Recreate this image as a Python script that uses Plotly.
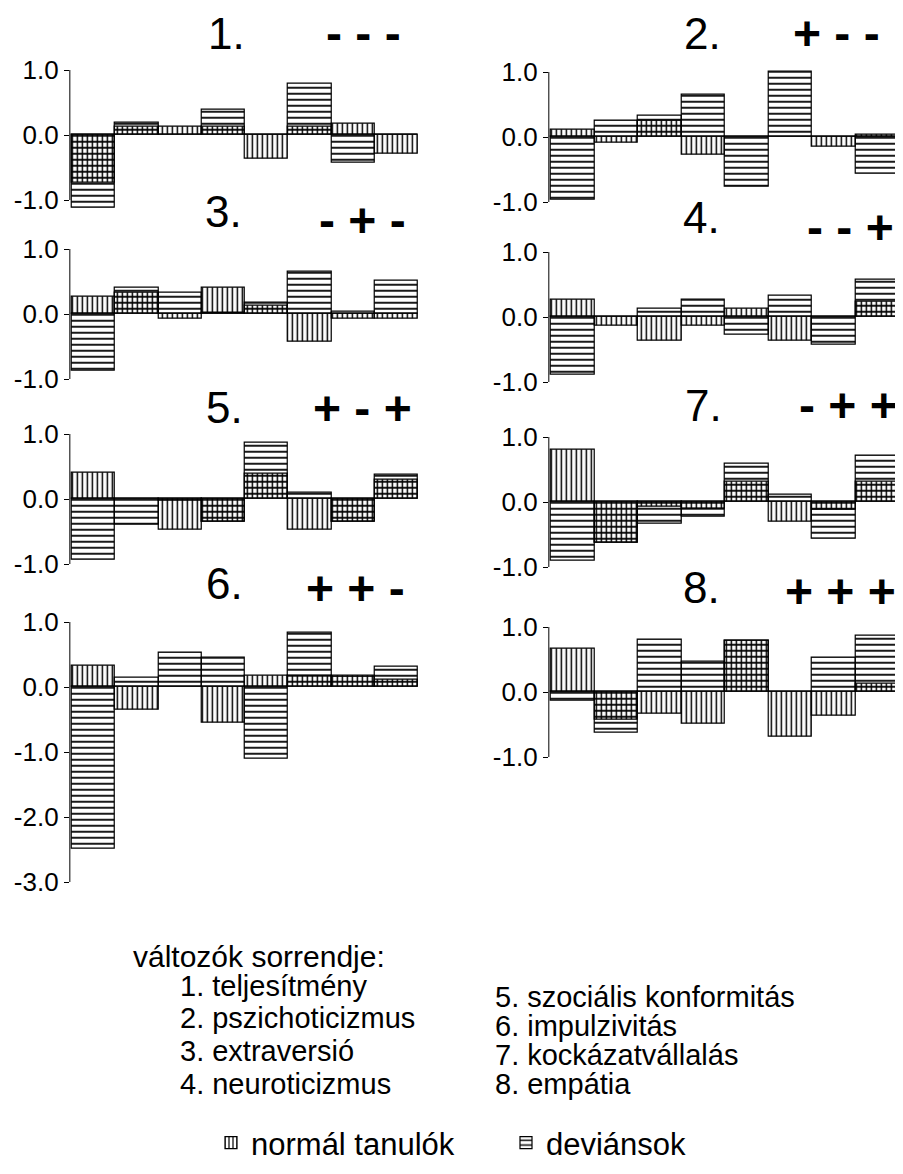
import plotly.graph_objects as go

# ---------------- data ----------------
variables = [1, 2, 3, 4, 5, 6, 7, 8]
var_names = ["teljesítmény", "pszichoticizmus", "extraversió", "neuroticizmus",
             "szociális konformitás", "impulzivitás", "kockázatvállalás", "empátia"]
list_header = "változók sorrendje:"
series_names = ["normál tanulók", "deviánsok"]

panel_ids = ["1.", "2.", "3.", "4.", "5.", "6.", "7.", "8."]
panel_signs = ["- - -", "+ - -", "- + -", "- - +", "+ - +", "+ + -", "- + +", "+ + +"]

normal_1 = [-0.73, 0.13, 0.12, 0.12, -0.36, 0.12, 0.18, -0.29]
deviant_1 = [-1.12, 0.19, 0.0, 0.39, 0.0, 0.79, -0.43, 0.0]
normal_2 = [0.11, -0.09, 0.25, -0.28, 0.0, 0.0, -0.15, 0.04]
deviant_2 = [-0.96, 0.25, 0.32, 0.65, -0.76, 1.0, 0.0, -0.56]
normal_3 = [0.26, 0.32, -0.08, 0.40, 0.12, -0.43, -0.08, -0.08]
deviant_3 = [-0.88, 0.40, 0.33, 0.02, 0.18, 0.65, 0.04, 0.51]
normal_4 = [0.26, -0.14, -0.36, -0.14, 0.12, -0.36, 0.0, 0.23]
deviant_4 = [-0.89, 0.0, 0.13, 0.26, -0.28, 0.32, -0.43, 0.58]
normal_5 = [0.40, 0.0, -0.47, -0.35, 0.39, -0.48, -0.35, 0.29]
deviant_5 = [-0.94, -0.40, -0.03, -0.35, 0.86, 0.10, -0.35, 0.38]
normal_6 = [0.33, -0.35, 0.0, -0.55, 0.18, 0.18, 0.18, 0.11]
deviant_6 = [-2.49, 0.14, 0.53, 0.45, -1.10, 0.84, 0.16, 0.31]
normal_7 = [0.80, -0.62, -0.08, -0.10, 0.31, -0.30, -0.12, 0.31]
deviant_7 = [-0.90, -0.62, -0.34, -0.22, 0.59, 0.11, -0.56, 0.71]
normal_8 = [0.67, -0.43, -0.34, -0.49, 0.79, -0.69, -0.36, 0.13]
deviant_8 = [-0.13, -0.62, 0.80, 0.47, 0.79, 0.0, 0.52, 0.86]

normal_all = [normal_1, normal_2, normal_3, normal_4, normal_5, normal_6, normal_7, normal_8]
deviant_all = [deviant_1, deviant_2, deviant_3, deviant_4, deviant_5, deviant_6, deviant_7, deviant_8]

ticks_short = [1.0, 0.0, -1.0]
ticks_long = [1.0, 0.0, -1.0, -2.0, -3.0]

# ---------------- layout (page pixels; page body has an 8px margin) ----------------
OFF = 8
W, H = 895, 1158
SCALE = 65.0
FONT = "Liberation Sans, Arial, Helvetica, sans-serif"
col_px = {"L": (72, 418), "R": (551, 899)}
# panel index -> (column, zero line px, lower range, ticks)
panel_pos = {
    0: ("L", 135, -1.2, ticks_short),
    1: ("R", 137, -1.2, ticks_short),
    2: ("L", 314, -1.2, ticks_short),
    3: ("R", 317, -1.2, ticks_short),
    4: ("L", 499, -1.2, ticks_short),
    5: ("L", 687, -3.1, ticks_long),
    6: ("R", 502, -1.2, ticks_short),
    7: ("R", 692, -1.2, ticks_short),
}
title_pos = {  # (id x, id y, signs x, signs y)
    0: (226, 33, 363, 33),
    1: (702, 33, 836, 33),
    2: (223, 211, 362, 221),
    3: (701, 218, 850, 227),
    4: (224, 407, 362, 408),
    5: (224, 583, 355, 588),
    6: (703, 405, 848, 405),
    7: (701, 587, 840, 591),
}
Y_TOP = 1.05

fig = go.Figure()
layout = dict(
    width=W, height=H,
    margin=dict(l=0, r=0, t=0, b=0, pad=0, autoexpand=False),
    paper_bgcolor="white", plot_bgcolor="white",
    barmode="overlay", bargap=0,
    font=dict(family=FONT, color="black"),
    showlegend=True,
)
shapes = []
annotations = []


def fx(px):
    return (px - OFF) / W


def fy(px):
    return 1 - (px - OFF) / H


for i in range(8):
    n = i + 1
    xa = "x" if n == 1 else f"x{n}"
    ya = "y" if n == 1 else f"y{n}"
    col, zero_px, ylo, tks = panel_pos[i]
    x0, x1 = col_px[col]
    unit = (x1 - x0) / 8.0
    xlo, xhi = 0.45, 8.55
    dom_x = [fx(x0 - 0.05 * unit), fx(x1 + 0.05 * unit)]
    top_px = zero_px - Y_TOP * SCALE
    bot_px = zero_px - ylo * SCALE
    dom_y = [fy(bot_px), fy(top_px)]

    for vals, name, shape, size in ((normal_all[i], series_names[0], "|", 5),
                                    (deviant_all[i], series_names[1], "-", 6)):
        fig.add_trace(go.Bar(
            x=variables, y=vals, name=name, xaxis=xa, yaxis=ya,
            width=1.0, legendgroup=name, showlegend=(i == 0),
            marker=dict(color="rgba(0,0,0,0)",
                        line=dict(color="black", width=1.2),
                        pattern=dict(shape=shape, fgcolor="black",
                                     bgcolor="rgba(0,0,0,0)", size=size,
                                     solidity=0.3, fillmode="replace")),
        ))

    xkey = "xaxis" if n == 1 else f"xaxis{n}"
    ykey = "yaxis" if n == 1 else f"yaxis{n}"
    layout[xkey] = dict(domain=dom_x, range=[xlo, xhi], anchor=ya,
                        visible=False, fixedrange=True)
    layout[ykey] = dict(domain=dom_y, range=[ylo, Y_TOP], anchor=xa,
                        showgrid=False, zeroline=False, showline=False,
                        automargin=False,
                        ticks="outside", ticklen=5, tickwidth=1, tickcolor="black",
                        tickmode="array", tickvals=tks,
                        ticktext=[f"{t:.1f}" for t in tks],
                        tickfont=dict(family=FONT, size=26, color="black"),
                        fixedrange=True)
    shapes.append(dict(type="line", xref=f"{xa} domain", yref=ya,
                       x0=0, x1=0, y0=min(tks), y1=max(tks),
                       line=dict(color="black", width=1)))

    ix, iy, sx, sy = title_pos[i]
    annotations.append(dict(text=panel_ids[i], xref="paper", yref="paper",
                            x=fx(ix), y=fy(iy), xanchor="center", yanchor="middle",
                            showarrow=False, font=dict(family=FONT, size=44)))
    annotations.append(dict(text=f"<b>{panel_signs[i]}</b>", xref="paper", yref="paper",
                            x=fx(sx), y=fy(sy), xanchor="center", yanchor="middle",
                            showarrow=False, font=dict(family=FONT, size=48)))

# variable list
annotations.append(dict(text=list_header, xref="paper", yref="paper",
                        x=fx(131), y=fy(956), xanchor="left", yanchor="middle",
                        showarrow=False, font=dict(family=FONT, size=30)))
left_y = [986, 1018, 1051, 1084]
right_y = [997, 1026, 1055, 1084]
for k, name in enumerate(var_names):
    if k < 4:
        xx, yy = 178, left_y[k]
    else:
        xx, yy = 493, right_y[k - 4]
    annotations.append(dict(text=f"{variables[k]}. {name}", xref="paper", yref="paper",
                            x=fx(xx), y=fy(yy), xanchor="left", yanchor="middle",
                            showarrow=False, font=dict(family=FONT, size=29)))

layout["shapes"] = shapes
layout["annotations"] = annotations
layout["legend"] = dict(orientation="h", x=fx(211), y=fy(1143), xanchor="left",
                        yanchor="middle", font=dict(family=FONT, size=31),
                        entrywidth=250, entrywidthmode="pixels",
                        bgcolor="rgba(0,0,0,0)", traceorder="normal")
fig.update_layout(**layout)
fig.write_html("out.html")
